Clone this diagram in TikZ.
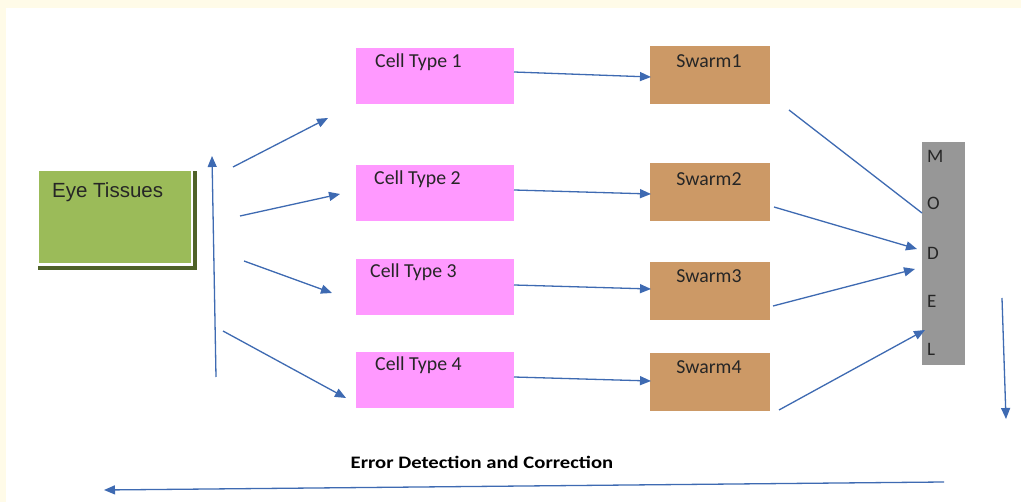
\documentclass[tikz,border=0pt]{standalone}
\usepackage{fontspec}
\setmainfont{Carlito}
\newfontfamily\arialf{Liberation Sans}
\newfontfamily\calstretch[FakeStretch=1.18]{Carlito}
\usetikzlibrary{arrows.meta}
\definecolor{cream}{HTML}{FFFBE8}
\definecolor{pinkbox}{HTML}{FF99FF}
\definecolor{brownbox}{HTML}{CC9966}
\definecolor{graybar}{HTML}{979797}
\definecolor{greenbox}{HTML}{9BBB59}
\definecolor{greenshadow}{HTML}{4F6228}
\definecolor{arrowblue}{RGB}{62,106,178}
\tikzset{
  cellbox/.style={fill=pinkbox, draw=none, minimum width=158pt, minimum height=56pt, inner sep=0pt},
  swarmbox/.style={fill=brownbox, draw=none, minimum width=120pt, minimum height=58pt, inner sep=0pt},
  boxtext/.style={font=\fontsize{19.8}{22}\selectfont, text=black!85, inner sep=0pt},
  lettertext/.style={font=\fontsize{19}{21}\selectfont, text=black!85, inner sep=0pt, anchor=west},
  conn/.style={draw=arrowblue, line width=1.3pt, -{Triangle[length=11pt,width=9pt]}},
  plainconn/.style={draw=arrowblue, line width=1.3pt},
}
\begin{document}
\begin{tikzpicture}[x=1pt,y=-1pt]
\useasboundingbox (0,0) rectangle (1021,502);
\fill[cream] (0,0) rectangle (1021,502);
\fill[white] (6,8) rectangle (1021,502);
% Eye tissues box
\fill[greenshadow] (38,171) rectangle (197,270);
\fill[white] (34,167) rectangle (193,266);
\node[fill=greenbox, minimum width=152pt, minimum height=92pt, inner sep=0pt] (eye) at (114.5,217) {};
\node[font=\arialf\fontsize{20.5}{24}\selectfont, text=black!85, inner sep=0pt, anchor=west] (eyet) at (52,192) {Eye Tissues};
% cell boxes
\node[cellbox] (c1) at (435,76) {};
\node[cellbox] (c2) at (435,193) {};
\node[cellbox] (c3) at (435,287) {};
\node[cellbox] (c4) at (435,380) {};
\node[boxtext, anchor=west] (c1t) at (375,62) {Cell Type 1};
\node[boxtext, anchor=west] (c2t) at (374,179) {Cell Type 2};
\node[boxtext, anchor=west] (c3t) at (370,272) {Cell Type 3};
\node[boxtext, anchor=west] (c4t) at (375,365) {Cell Type 4};
% swarm boxes
\node[swarmbox] (s1) at (710,75) {};
\node[swarmbox] (s2) at (710,192.5) {};
\node[swarmbox] (s3) at (710,291) {};
\node[swarmbox] (s4) at (710,382) {};
\node[boxtext] (s1t) at (709,61) {Swarm1};
\node[boxtext] (s2t) at (709,179) {Swarm2};
\node[boxtext] (s3t) at (709,276) {Swarm3};
\node[boxtext] (s4t) at (709,367) {Swarm4};
% model bar
\node[fill=graybar, minimum width=43pt, minimum height=223pt, inner sep=0pt] (model) at (943.5,253.5) {};
\node[lettertext] (mM) at (927,156) {M};
\node[lettertext] (mO) at (927,203) {O};
\node[lettertext] (mD) at (927,253) {D};
\node[lettertext] (mE) at (927,301) {E};
\node[lettertext] (mL) at (927,349) {L};
% error text
\node[font=\calstretch\bfseries\fontsize{17.5}{20}\selectfont, inner sep=0pt] (err) at (482,462) {Error Detection and Correction};
% coordinates
\coordinate (up0) at (216,377);
\coordinate (up1) at (212,156);
\coordinate (a1s) at (233,167); \coordinate (a1e) at (328,118);
\coordinate (a2s) at (240,216); \coordinate (a2e) at (340,194);
\coordinate (a3s) at (244,261); \coordinate (a3e) at (332,293);
\coordinate (a4s) at (223,331); \coordinate (a4e) at (346,398);
\coordinate (b1s) at (514,72);  \coordinate (b1e) at (651,77);
\coordinate (b2s) at (514,190); \coordinate (b2e) at (651,194);
\coordinate (b3s) at (514,285); \coordinate (b3e) at (651,289);
\coordinate (b4s) at (514,377); \coordinate (b4e) at (651,381);
\coordinate (m1s) at (789,110); \coordinate (m1e) at (922,213);
\coordinate (m2s) at (774,207); \coordinate (m2e) at (917,249);
\coordinate (m3s) at (773,306); \coordinate (m3e) at (915,269);
\coordinate (m4s) at (779,410); \coordinate (m4e) at (925,330);
\coordinate (dn0) at (1002,298); \coordinate (dn1) at (1006,419);
\coordinate (fb0) at (944,482); \coordinate (fb1) at (104,490);
% connectors
\draw[conn] (up0) -- (up1);
\draw[conn] (a1s) -- (a1e);
\draw[conn] (a2s) -- (a2e);
\draw[conn] (a3s) -- (a3e);
\draw[conn] (a4s) -- (a4e);
\draw[conn] (b1s) -- (b1e);
\draw[conn] (b2s) -- (b2e);
\draw[conn] (b3s) -- (b3e);
\draw[conn] (b4s) -- (b4e);
\draw[plainconn] (m1s) -- (m1e);
\draw[conn] (m2s) -- (m2e);
\draw[conn] (m3s) -- (m3e);
\draw[conn] (m4s) -- (m4e);
\draw[conn] (dn0) -- (dn1);
\draw[conn] (fb0) -- (fb1);
\end{tikzpicture}
\end{document}
